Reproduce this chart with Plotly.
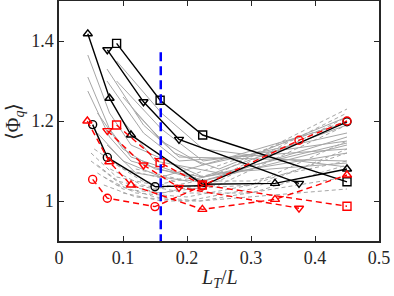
import plotly.graph_objects as go

# ---------------- data ----------------
# black solid series
blk_sq_x = [0.09, 0.158, 0.2245, 0.45]
blk_sq_y = [1.394, 1.252, 1.165, 1.048]
blk_dn_x = [0.0755, 0.132, 0.1875, 0.375]
blk_dn_y = [1.378, 1.248, 1.154, 1.044]
blk_up_x = [0.045, 0.079, 0.1125, 0.224, 0.3375, 0.45]
blk_up_y = [1.418, 1.257, 1.165, 1.042, 1.044, 1.08]
blk_ci_x = [0.0526, 0.0755, 0.15, 0.224, 0.45]
blk_ci_y = [1.191, 1.109, 1.036, 1.038, 1.198]

# red dashed series
red_sq_x = [0.09, 0.158, 0.224, 0.45]
red_sq_y = [1.19, 1.096, 1.04, 0.987]
red_dn_x = [0.0755, 0.132, 0.1875, 0.375]
red_dn_y = [1.176, 1.09, 1.034, 0.982]
red_up_x = [0.0443, 0.0786, 0.1125, 0.224, 0.3375, 0.45]
red_up_y = [1.2, 1.098, 1.04, 0.979, 1.004, 1.065]
red_ci_x = [0.0526, 0.0755, 0.15, 0.224, 0.375, 0.45]
red_ci_y = [1.054, 1.007, 0.986, 1.038, 1.152, 1.2]

# gray solid background curves
gs_x = [
    [0.045, 0.079, 0.1125, 0.225, 0.45],
    [0.045, 0.079, 0.1125, 0.225, 0.45],
    [0.045, 0.079, 0.1125, 0.225, 0.45],
    [0.06, 0.1, 0.15, 0.225, 0.45],
    [0.075, 0.132, 0.1875, 0.45],
    [0.075, 0.132, 0.1875, 0.45],
    [0.09, 0.16, 0.225, 0.45],
    [0.09, 0.16, 0.225, 0.45],
    [0.1, 0.16, 0.225, 0.45],
    [0.12, 0.18, 0.25, 0.45],
    [0.06, 0.1, 0.16, 0.45],
    [0.075, 0.12, 0.2, 0.45],
    [0.1, 0.15, 0.25, 0.45],
]
gs_y = [
    [1.365, 1.22, 1.14, 1.06, 1.12],
    [1.31, 1.18, 1.11, 1.05, 1.14],
    [1.275, 1.16, 1.10, 1.05, 1.16],
    [1.22, 1.13, 1.08, 1.06, 1.19],
    [1.33, 1.19, 1.11, 1.10],
    [1.30, 1.17, 1.10, 1.13],
    [1.35, 1.22, 1.13, 1.085],
    [1.30, 1.18, 1.10, 1.15],
    [1.26, 1.15, 1.09, 1.17],
    [1.22, 1.12, 1.08, 1.21],
    [1.17, 1.10, 1.06, 1.195],
    [1.14, 1.07, 1.05, 1.145],
    [1.20, 1.10, 1.07, 1.095],
]

# gray dashed background curves
gd_x = [
    [0.05, 0.09, 0.15, 0.25, 0.45],
    [0.05, 0.09, 0.15, 0.25, 0.45],
    [0.06, 0.1, 0.16, 0.25, 0.45],
    [0.06, 0.1, 0.16, 0.25, 0.45],
    [0.07, 0.12, 0.2, 0.3, 0.45],
    [0.07, 0.12, 0.2, 0.3, 0.45],
    [0.08, 0.13, 0.2, 0.3, 0.45],
    [0.08, 0.13, 0.2, 0.3, 0.45],
    [0.09, 0.15, 0.22, 0.45],
    [0.1, 0.16, 0.22, 0.45],
    [0.055, 0.1, 0.18, 0.45],
    [0.12, 0.2, 0.3, 0.45],
]
gd_y = [
    [1.12, 1.06, 1.04, 1.07, 1.23],
    [1.10, 1.05, 1.03, 1.06, 1.22],
    [1.09, 1.04, 1.02, 1.05, 1.21],
    [1.07, 1.03, 1.02, 1.04, 1.19],
    [1.06, 1.02, 1.01, 1.04, 1.15],
    [1.04, 1.01, 1.00, 1.03, 1.13],
    [1.10, 1.05, 1.03, 1.04, 1.12],
    [1.08, 1.04, 1.02, 1.02, 1.09],
    [1.04, 1.01, 1.00, 1.06],
    [1.02, 1.00, 1.00, 1.03],
    [1.13, 1.08, 1.05, 1.20],
    [1.08, 1.05, 1.05, 1.10],
]

# vertical reference line
vline_x = [0.159, 0.159]
vline_y = [1.372, 0.9]

x_ticks = [0, 0.1, 0.2, 0.3, 0.4, 0.5]
x_tick_text = ["0", "0.1", "0.2", "0.3", "0.4", "0.5"]
y_ticks = [1.0, 1.2, 1.4]
y_tick_text = ["1", "1.2", "1.4"]

SERIF = "Liberation Serif"

# ---------------- figure ----------------
fig = go.Figure()
GRAY = "#a6a6a6"
for xs, ys in zip(gs_x, gs_y):
    fig.add_trace(go.Scatter(x=xs, y=ys, mode="lines",
                             line=dict(color=GRAY, width=1)))
for xs, ys in zip(gd_x, gd_y):
    fig.add_trace(go.Scatter(x=xs, y=ys, mode="lines",
                             line=dict(color=GRAY, width=1, dash="4px,3px")))

def add(xs, ys, color, sym, dash=None):
    fig.add_trace(go.Scatter(
        x=xs, y=ys, mode="lines+markers",
        line=dict(color=color, width=1.4, dash=dash),
        marker=dict(symbol=sym, size=8, color=color,
                    line=dict(color=color, width=1.4)),
    ))

add(blk_sq_x, blk_sq_y, "black", "square-open")
add(blk_dn_x, blk_dn_y, "black", "triangle-down-open")
add(blk_up_x, blk_up_y, "black", "triangle-up-open")
add(blk_ci_x, blk_ci_y, "black", "circle-open")
add(red_sq_x, red_sq_y, "#ff0000", "square-open", "6px,4px")
add(red_dn_x, red_dn_y, "#ff0000", "triangle-down-open", "6px,4px")
add(red_up_x, red_up_y, "#ff0000", "triangle-up-open", "6px,4px")
add(red_ci_x, red_ci_y, "#ff0000", "circle-open", "6px,4px")

fig.add_trace(go.Scatter(x=vline_x, y=vline_y, mode="lines",
                         line=dict(color="#0000ff", width=2.5, dash="9px,5px")))

axis_common = dict(
    showline=True, linecolor="#262626", linewidth=1.5, mirror="ticks",
    ticks="inside", ticklen=5, tickwidth=1, tickcolor="#262626",
    showgrid=False, zeroline=False, automargin=False,
    tickfont=dict(family=SERIF, size=18, color="#262626"),
)
fig.update_layout(
    width=394, height=296,
    margin=dict(l=59, r=15, t=1, b=55),
    paper_bgcolor="white", plot_bgcolor="white",
    font=dict(family=SERIF, size=18, color="#262626"),
    showlegend=False,
    xaxis=dict(range=[0, 0.5], tickvals=x_ticks, ticktext=x_tick_text, **axis_common),
    yaxis=dict(range=[0.9, 1.5], tickvals=y_ticks, ticktext=y_tick_text, **axis_common),
    annotations=[
        dict(text="<i>L</i><sub><i>T</i></sub>/<i>L</i>", xref="paper", yref="paper",
             x=0.503, y=-0.155, xanchor="center", yanchor="middle", showarrow=False,
             font=dict(family=SERIF, size=20, color="#262626")),
        dict(text="⟨Φ<sub><i>q</i></sub>⟩", xref="paper", yref="paper",
             x=-0.14, y=0.5, xanchor="center", yanchor="middle", showarrow=False,
             textangle=-90, font=dict(family=SERIF, size=20, color="#262626")),
    ],
)

fig.write_html("out.html", config={"displayModeBar": False},
               post_script="document.body.style.margin='0';")
